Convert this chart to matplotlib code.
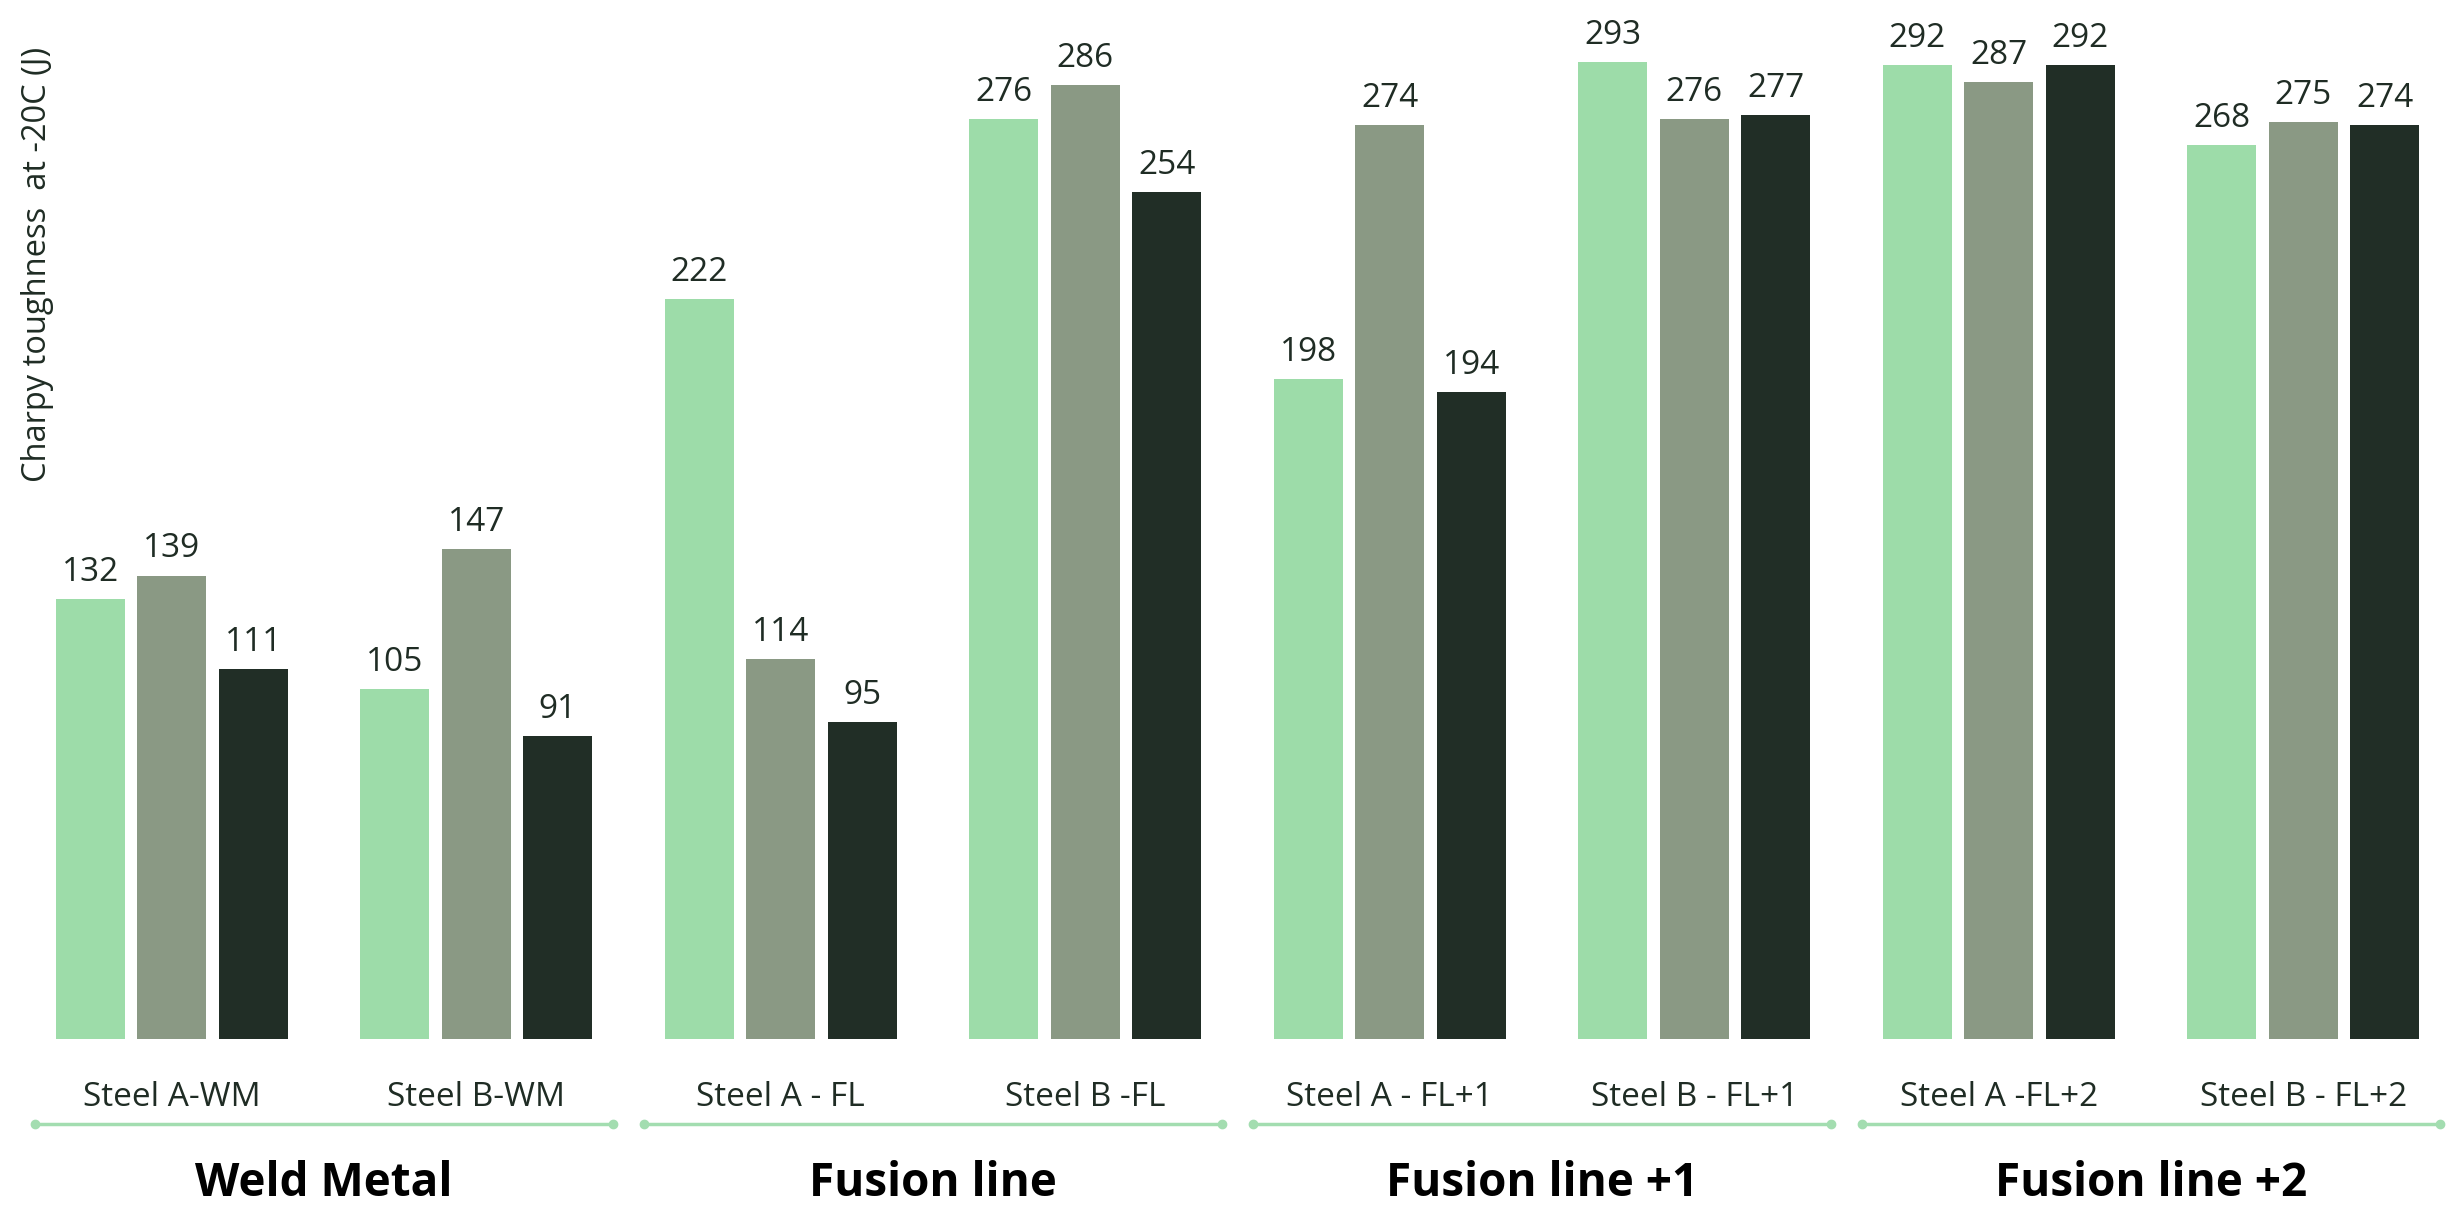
import matplotlib
matplotlib.use("Agg")
import matplotlib.pyplot as plt
from matplotlib.transforms import blended_transform_factory
import numpy as np

plt.rcParams['font.family'] = ['Open Sans', 'DejaVu Sans']

# Categories and groups
categories = ["Steel A-WM", "Steel B-WM", "Steel A - FL", "Steel B -FL",
              "Steel A - FL+1", "Steel B - FL+1", "Steel A -FL+2", "Steel B - FL+2"]
groups = ["Weld Metal", "Fusion line", "Fusion line +1", "Fusion line +2"]

# Charpy toughness values (J) for three specimens per location
specimen_1 = [132, 105, 222, 276, 198, 293, 292, 268]
specimen_2 = [139, 147, 114, 286, 274, 276, 287, 275]
specimen_3 = [111, 91, 95, 254, 194, 277, 292, 274]

series = [specimen_1, specimen_2, specimen_3]
colors = ["#9DDCA9", "#8A9984", "#212E26"]
text_color = "#1F2C24"
line_color = "#A3DDB0"

W, H = 2461, 1206
fig = plt.figure(figsize=(W / 100, H / 100), dpi=100)
base_px = 1039
ax = fig.add_axes([0, (H - base_px) / H, 1, base_px / H])

x = np.arange(len(categories))
step = 0.268
width = 0.227
for k, vals in enumerate(series):
    pos = x + (k - 1) * step
    bars = ax.bar(pos, vals, width=width, color=colors[k], zorder=2)
    for b, v in zip(bars, vals):
        ax.annotate(f"{v}", (b.get_x() + b.get_width() / 2, v),
                    xytext=(0, 13), textcoords="offset points",
                    ha="center", va="baseline", fontsize=24, color=text_color)

ax.set_xlim(-0.564, 7.518)
ax.set_ylim(0, 311.6)
ax.axis("off")

fig.text(38 / W, 1 - 47 / H, "Charpy toughness  at -20C (J)", rotation=90,
         ha="center", va="top", fontsize=23.5, color=text_color)

tr = blended_transform_factory(ax.transData, fig.transFigure)
y_cat = 1 - 1098 / H
y_line = 1 - 1124 / H
y_group = 1 - 1184 / H
for i, c in enumerate(categories):
    ax.text(i, y_cat, c, transform=tr, ha="center", va="center",
            fontsize=24, color=text_color, clip_on=False)

for g, name in enumerate(groups):
    x0, x1 = 2 * g - 0.45, 2 * g + 1 + 0.45
    ax.plot([x0, x1], [y_line, y_line], transform=tr, color=line_color,
            lw=2.5, marker="o", markersize=6, markevery=[0, 1],
            clip_on=False, solid_capstyle="butt")
    ax.text(2 * g + 0.5, y_group, name, transform=tr, ha="center",
            va="center", fontsize=33, fontweight="bold", color="black",
            clip_on=False)

fig.savefig("out.png", dpi=100)
